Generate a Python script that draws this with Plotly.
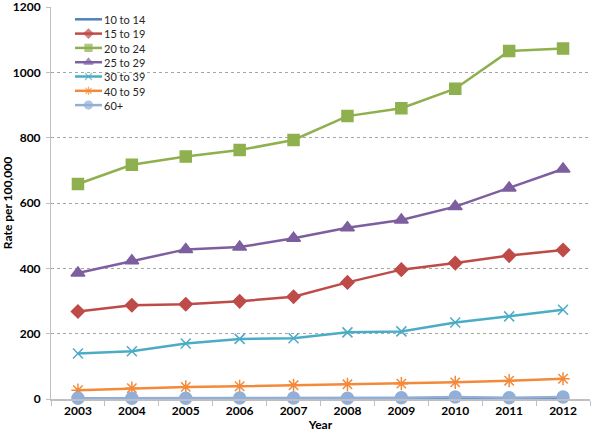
import plotly.graph_objects as go

years = ["2003", "2004", "2005", "2006", "2007", "2008", "2009", "2010", "2011", "2012"]
age_10_14 = [1, 1, 1, 1, 1, 1, 1, 1, 1, 1]
age_15_19 = [268, 287, 290, 299, 313, 357, 396, 416, 439, 456]
age_20_24 = [658, 717, 742, 762, 793, 866, 890, 950, 1065, 1073]
age_25_29 = [386, 423, 458, 465, 492, 524, 548, 589, 646, 704]
age_30_39 = [139, 146, 170, 184, 186, 204, 207, 234, 253, 273]
age_40_59 = [27, 33, 37, 39, 42, 45, 47, 51, 56, 62]
age_60_plus = [2, 2, 2, 3, 3, 2, 4, 6, 4, 6]
series_names = ["10 to 14", "15 to 19", "20 to 24", "25 to 29", "30 to 39", "40 to 59", "60+"]
y_ticks = [0, 200, 400, 600, 800, 1000, 1200]

series_values = [age_10_14, age_15_19, age_20_24, age_25_29, age_30_39, age_40_59, age_60_plus]
styles = [
    ("#4F81BD", None, 0, 0),
    ("#BE4B48", "diamond", 10, 7),
    ("#8EB04E", "square", 11, 7),
    ("#7D5FA0", "triangle-up", 12, 8),
    ("#4BACC6", "x-thin", 10, 7),
    ("#F38A3A", "asterisk", 11, 7),
    ("#92AFDA", "circle", 12, 8),
]

fig = go.Figure()
for name, vals, (color, sym, size, _) in zip(series_names, series_values, styles):
    if sym is None:
        fig.add_trace(go.Scatter(x=years, y=vals, name=name, mode="lines",
                                 cliponaxis=False,
                                 line=dict(color=color, width=2.5), showlegend=False))
    else:
        fig.add_trace(go.Scatter(
            x=years, y=vals, name=name, mode="lines+markers", showlegend=False,
            cliponaxis=False,
            line=dict(color=color, width=2.5),
            marker=dict(symbol=sym, size=size, color=color,
                        line=dict(color=color, width=1.5))))

# compact legend drawn on a hidden overlay axis (0..1 coordinates)
leg_font = 11
leg_x0, leg_x1, leg_text_x = 0.0445, 0.0946, 0.097
leg_top = 0.9686
leg_step = leg_font * 1.3 / 392.0
for i, (name, (color, sym, _, lsize)) in enumerate(zip(series_names, styles)):
    yy = leg_top - i * leg_step
    fig.add_trace(go.Scatter(
        x=[leg_x0, (leg_x0 + leg_x1) / 2, leg_x1], y=[yy, yy, yy],
        xaxis="x2", yaxis="y2", showlegend=False, hoverinfo="skip",
        mode="lines+markers" if sym else "lines",
        line=dict(color=color, width=2.5),
        marker=dict(symbol=sym or "circle", size=[0, lsize, 0], color=color,
                    line=dict(color=color, width=1.2))))
fig.add_annotation(
    x=leg_text_x, y=leg_top - 3 * leg_step, xref="x2", yref="y2",
    text="<br>".join(series_names), align="left",
    showarrow=False, xanchor="left", yanchor="middle", borderpad=0,
    font=dict(size=leg_font, color="#262626"))

fig.update_layout(
    width=600, height=435,
    margin=dict(l=51, r=10, t=7, b=36),
    paper_bgcolor="white", plot_bgcolor="white",
    font=dict(family="Lato, Liberation Sans, sans-serif", size=11, color="black"),
    showlegend=False,
    xaxis=dict(
        type="category", range=[-0.5, 9.5], automargin=False,
        title=dict(text="<b>Year</b>", standoff=3, font=dict(size=12)),
        tickfont=dict(size=12, weight="bold"),
        showline=True, linecolor="#BFBFBF", linewidth=2,
        ticks="outside", tickson="boundaries", ticklen=5, tickcolor="#BFBFBF",
        showgrid=False, zeroline=False,
    ),
    yaxis=dict(
        range=[0, 1200], tickvals=y_ticks, ticklabeloverflow="allow",
        ticklabelstandoff=3, automargin=False,
        title=dict(text="<b>Rate per 100,000</b>", standoff=1, font=dict(size=12)),
        tickfont=dict(size=12, weight="bold"),
        showline=True, linecolor="#BFBFBF", linewidth=1,
        ticks="outside", ticklen=4, tickcolor="#BFBFBF",
        showgrid=True, gridcolor="#A6A6A6", griddash="dot", gridwidth=1,
        zeroline=False,
    ),
    xaxis2=dict(overlaying="x", range=[0, 1], visible=False, fixedrange=True),
    yaxis2=dict(overlaying="y", range=[0, 1], visible=False, fixedrange=True),
)

fig.write_html("out.html", config={"displayModeBar": False},
               post_script="document.body.style.margin='0';")
